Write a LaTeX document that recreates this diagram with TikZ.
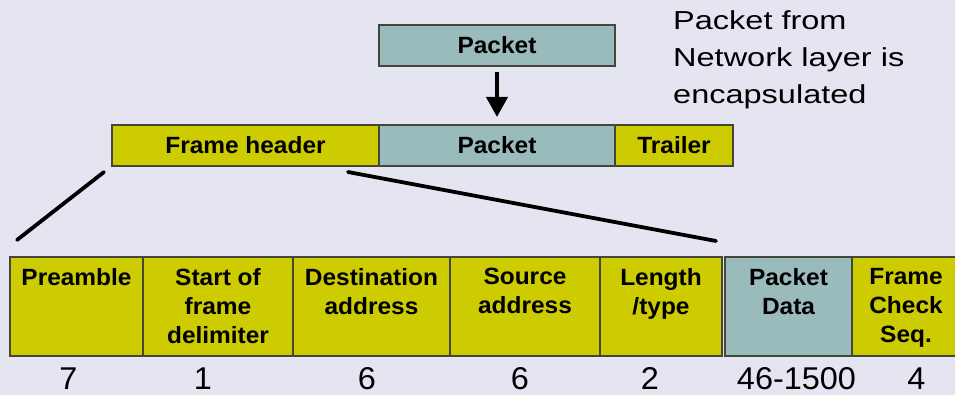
\documentclass[tikz,border=0pt]{standalone}
\usepackage{fontspec}
\setmainfont{Liberation Sans}
\newfontfamily\boldlab[FakeStretch=1.04]{Liberation Sans Bold}
\newfontfamily\widereg[FakeStretch=1.25]{Liberation Sans}
\newfontfamily\plainreg[FakeStretch=1.03]{Liberation Sans}
\usetikzlibrary{arrows.meta}
\definecolor{bg}{HTML}{E5E5F1}
\definecolor{hdr}{HTML}{CCCC00}
\definecolor{pkt}{HTML}{99BBBB}
\definecolor{edge}{HTML}{45453A}
\tikzset{
  box/.style={draw=edge, line width=1.2pt, inner sep=0pt, outer sep=0pt, anchor=north west,
              font=\boldlab\fontsize{23.5}{29.3}\selectfont},
  hbox/.style={box, fill=hdr},
  pbox/.style={box, fill=pkt},
  btext/.style={inner sep=0pt, anchor=north, align=center, font=\boldlab\fontsize{23.5}{29.3}\selectfont},
  numtext/.style={inner sep=0pt, anchor=base, font=\plainreg\fontsize{31.5}{38}\selectfont},
  captext/.style={inner sep=0pt, anchor=north west, align=left, font=\widereg\fontsize{26}{37}\selectfont},
  zoomline/.style={line width=3.8pt, line cap=round},
}
\begin{document}
\begin{tikzpicture}[x=1pt,y=-1pt]
  \fill[bg] (0,0) rectangle (955,395);
  \useasboundingbox (0,0) rectangle (955,395);

  % top packet
  \node[pbox, minimum width=236pt, minimum height=41pt] (ptop) at (379,25) {Packet};
  % frame row
  \node[hbox, minimum width=267pt, minimum height=41pt] (fh) at (112,125) {Frame header};
  \node[pbox, minimum width=236pt, minimum height=41pt] (pmid) at (379,125) {Packet};
  \node[hbox, minimum width=118pt, minimum height=41pt] (tr) at (615,125) {Trailer};

  \draw[line width=4pt, -{Triangle[width=21pt,length=20pt]}]
    ([yshift=-6pt]ptop.south) -- ([yshift=8pt]pmid.north);

  % caption
  \node[captext] (cap) at (673,10) {Packet from\\Network layer is\\encapsulated};

  % zoom lines
  \coordinate (l1a) at (104,172);
  \coordinate (l1b) at (17,240);
  \coordinate (l2a) at (348,172);
  \coordinate (l2b) at (716,241);
  \draw[zoomline] (l1a) -- (l1b);
  \draw[zoomline] (l2a) -- (l2b);

  % bottom row
  \node[hbox, minimum width=133pt, minimum height=99pt] (pre) at (10,257) {};
  \node[hbox, minimum width=150pt, minimum height=99pt] (sfd) at (143,257) {};
  \node[hbox, minimum width=157pt, minimum height=99pt] (dst) at (293,257) {};
  \node[hbox, minimum width=150pt, minimum height=99pt] (src) at (450,257) {};
  \node[hbox, minimum width=122pt, minimum height=99pt] (len) at (600,257) {};
  \node[pbox, minimum width=127pt, minimum height=99pt] (pd) at (725,257) {};
  \node[hbox, minimum width=110pt, minimum height=99pt] (fcs) at (852,257) {};

  \node[btext] (preT) at ([yshift=-11pt]pre.north) {Preamble};
  \node[btext] (sfdT) at ([yshift=-11pt]sfd.north) {Start of\\frame\\delimiter};
  \node[btext] (dstT) at ([yshift=-11pt]dst.north) {Destination\\address};
  \node[btext] (srcT) at ([yshift=-11pt]src.north) {Source\\address};
  \node[btext] (lenT) at ([yshift=-11pt]len.north) {Length\\/type};
  \node[btext] (pdT) at ([yshift=-11pt]pd.north) {Packet\\Data};
  \node[btext] (fcsT) at (906,268) {Frame\\Check\\Seq.};

  % sizes
  \node[numtext] (n1) at (68.5,389.5) {7};
  \node[numtext] (n2) at (203,389.5) {1};
  \node[numtext] (n3) at (367,389.5) {6};
  \node[numtext] (n4) at (520,389.5) {6};
  \node[numtext] (n5) at (650,389.5) {2};
  \node[numtext] (n6) at (796.5,389.5) {46-1500};
  \node[numtext] (n7) at (916.5,389.5) {4};
\end{tikzpicture}
\end{document}
